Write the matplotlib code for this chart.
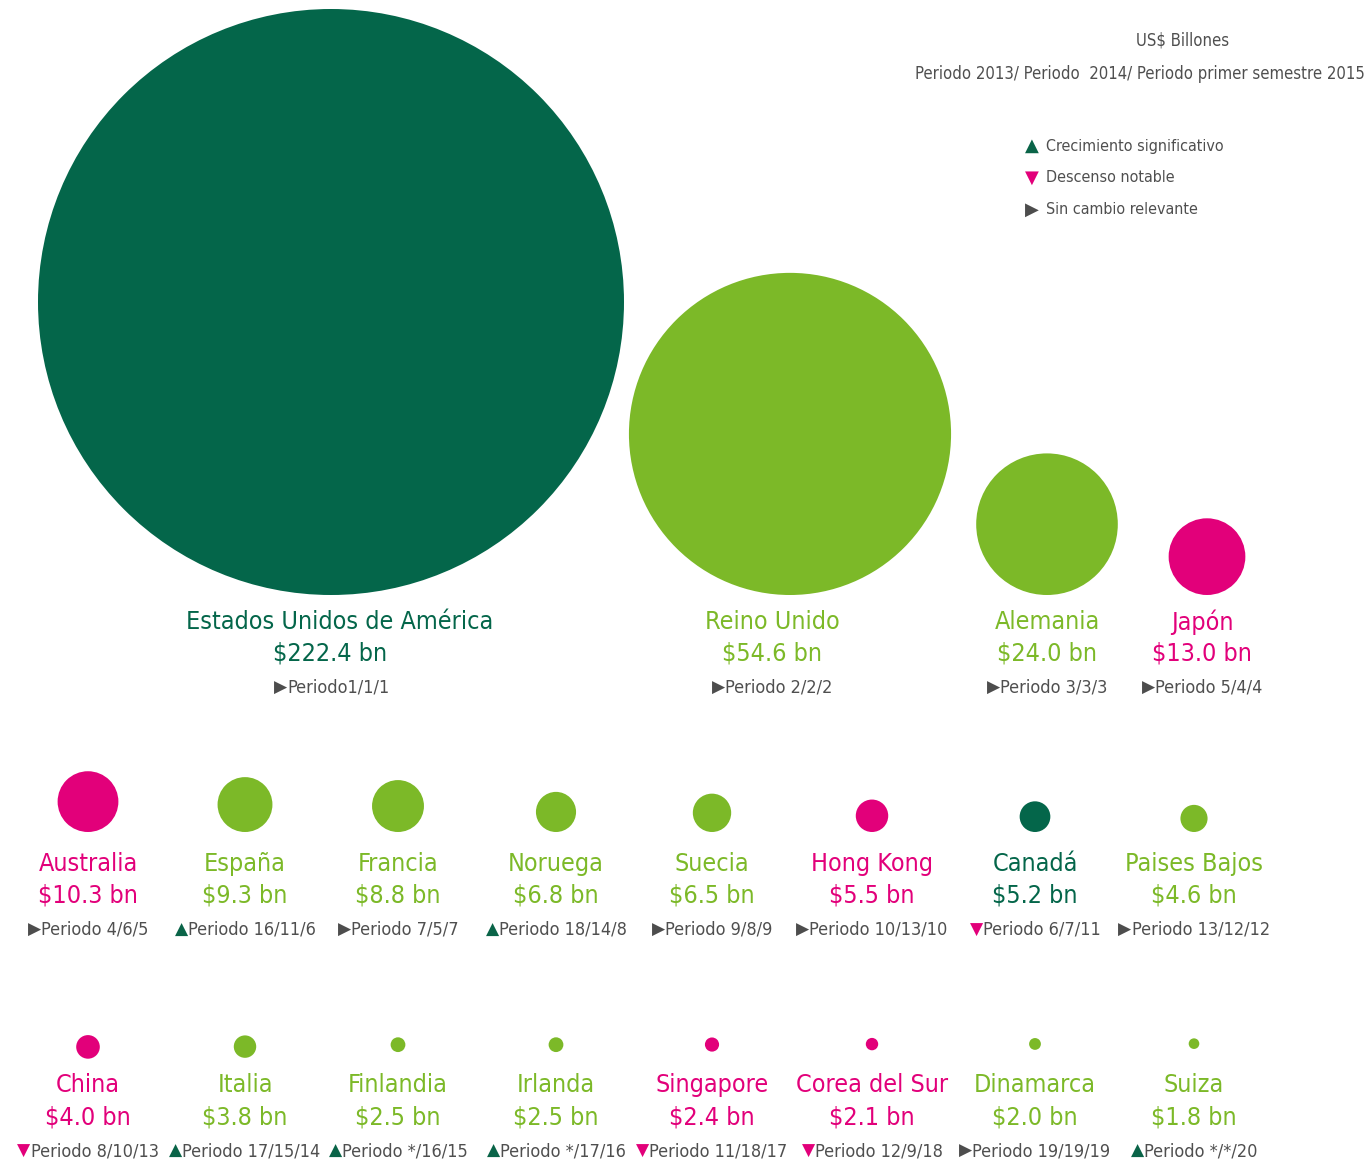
import matplotlib
matplotlib.use("Agg")
import matplotlib.pyplot as plt
from matplotlib import font_manager
from matplotlib.patches import Circle
from matplotlib.offsetbox import TextArea, HPacker, AnnotationBbox

# --- data ---
countries = ["Estados Unidos de América", "Reino Unido", "Alemania", "Japón",
             "Australia", "España", "Francia", "Noruega", "Suecia", "Hong Kong",
             "Canadá", "Paises Bajos",
             "China", "Italia", "Finlandia", "Irlanda", "Singapore", "Corea del Sur",
             "Dinamarca", "Suiza"]
values = [222.4, 54.6, 24.0, 13.0,
          10.3, 9.3, 8.8, 6.8, 6.5, 5.5, 5.2, 4.6,
          4.0, 3.8, 2.5, 2.5, 2.4, 2.1, 2.0, 1.8]
ranks = ["1/1/1", "2/2/2", "3/3/3", "5/4/4",
         "4/6/5", "16/11/6", "7/5/7", "18/14/8", "9/8/9", "10/13/10", "6/7/11", "13/12/12",
         "8/10/13", "17/15/14", "*/16/15", "*/17/16", "11/18/17", "12/9/18", "19/19/19", "*/*/20"]
trends = ["flat", "flat", "flat", "flat",
          "flat", "up", "flat", "up", "flat", "flat", "down", "flat",
          "down", "up", "up", "up", "down", "down", "flat", "up"]
groups = ["dark", "light", "light", "pink",
          "pink", "light", "light", "light", "light", "pink", "dark", "light",
          "pink", "light", "light", "light", "pink", "pink", "light", "light"]

legend_labels = ["Crecimiento significativo", "Descenso notable", "Sin cambio relevante"]

# --- style ---
colors = {"dark": "#04664a", "light": "#7cb928", "pink": "#e2007a"}
tri_glyph = {"up": "\u25B2", "down": "\u25BC", "flat": "\u25B6"}
tri_color = {"up": "#0a6448", "down": "#e2007a", "flat": "#4d4d4d"}
grey = "#4f4f4f"

names = {f.name for f in font_manager.fontManager.ttflist}
if "Liberation Sans Narrow" in names:
    FONT = dict(family="Liberation Sans Narrow")
else:
    FONT = dict(family="DejaVu Sans", stretch="condensed")
SYM = dict(family="DejaVu Sans")

W, H = 1371, 1165
fig = plt.figure(figsize=(W / 100, H / 100), dpi=100)
ax = fig.add_axes([0, 0, 1, 1])
ax.set_xlim(0, W)
ax.set_ylim(H, 0)
ax.set_aspect("equal")
ax.axis("off")


def radius(v):
    return min(2.95 * v, 293)


# layout
top_x = [331, 790, 1047, 1207]
top_lx = [340, 772, 1047, 1202]
grid_x = [88, 245, 398, 556, 712, 872, 1035, 1194]
NAME_FS, PER_FS = 18, 13


def period_label(x, y, trend, text, fs):
    parts = [TextArea(tri_glyph[trend], textprops=dict(color=tri_color[trend], fontsize=fs * 0.95, **SYM)),
             TextArea(text, textprops=dict(color=grey, fontsize=fs, **FONT))]
    box = HPacker(children=parts, pad=0, sep=0, align="baseline")
    ab = AnnotationBbox(box, (x, y), frameon=False, box_alignment=(0.5, 0.5), pad=0)
    ax.add_artist(ab)


for i, (name, v, rk, tr, g) in enumerate(zip(countries, values, ranks, trends, groups)):
    r = radius(v)
    c = colors[g]
    if i < 4:
        bx, lx = top_x[i], top_lx[i]
        cy = 595 - r
        ny = 622
        ptxt = "Periodo" + rk if i == 0 else "Periodo " + rk
    elif i < 12:
        bx = lx = grid_x[i - 4]
        cy = 832 - r
        ny = 864
        ptxt = "Periodo " + rk
    else:
        bx = lx = grid_x[i - 12]
        cy = 1047 - (12 - r) * 0.5
        ny = 1085
        ptxt = "Periodo " + rk
    ax.add_patch(Circle((bx, cy), r, facecolor=c, edgecolor="none"))
    ax.text(lx, ny, name, color=c, fontsize=NAME_FS, ha="center", va="center", **FONT)
    vx = lx - 10 if i == 0 else lx
    ax.text(vx, ny + 32, "$%.1f bn" % v, color=c, fontsize=NAME_FS, ha="center", va="center", **FONT)
    period_label(lx - 8 if i == 0 else lx, ny + 66, tr, ptxt, PER_FS)

# header
ax.text(1183, 40, "US$ Billones", color=grey, fontsize=12, ha="center", va="center", **FONT)
ax.text(1365, 74, "Periodo 2013/ Periodo  2014/ Periodo primer semestre 2015", color=grey,
        fontsize=12, ha="right", va="center", **FONT)

# legend
for k, (lab, tr) in enumerate(zip(legend_labels, ["up", "down", "flat"])):
    y = 146 + 32 * k
    ax.text(1032, y, tri_glyph[tr], color=tri_color[tr], fontsize=13, ha="center", va="center", **SYM)
    ax.text(1046, y, lab, color=grey, fontsize=11.5, ha="left", va="center", **FONT)

fig.savefig("out.png", dpi=100, facecolor="white")
